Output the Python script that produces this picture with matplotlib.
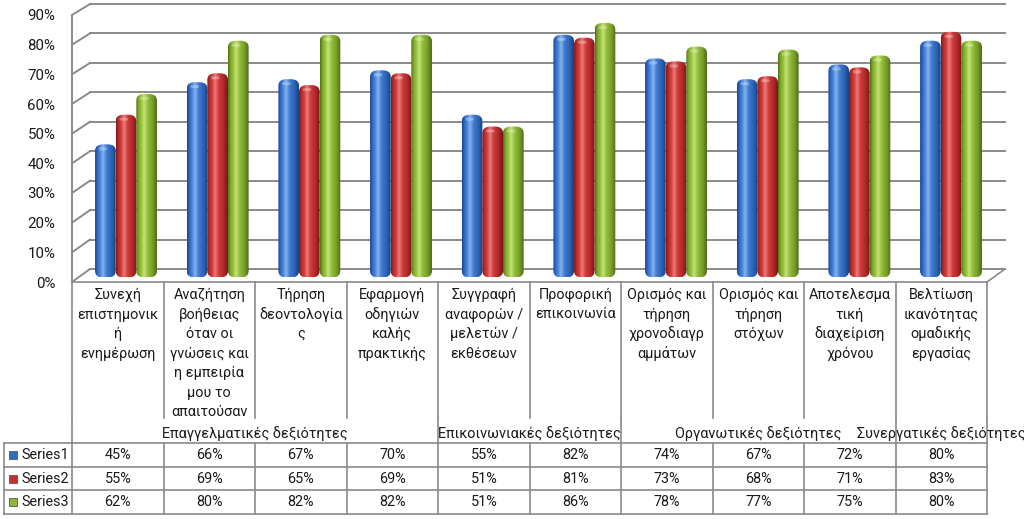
import matplotlib
matplotlib.use("Agg")
import matplotlib.pyplot as plt
import numpy as np
from matplotlib.colors import LinearSegmentedColormap
from matplotlib.patches import FancyBboxPatch, Rectangle
from matplotlib.ticker import PercentFormatter

plt.rcParams['font.family'] = ['Roboto', 'DejaVu Sans']

categories = [
    "Συνεχή\nεπιστημονικ\nή\nενημέρωση",
    "Αναζήτηση\nβοήθειας\nόταν οι\nγνώσεις και\nη εμπειρία\nμου το\nαπαιτούσαν",
    "Τήρηση\nδεοντολογία\nς",
    "Εφαρμογή\nοδηγιών\nκαλής\nπρακτικής",
    "Συγγραφή\nαναφορών /\nμελετών /\nεκθέσεων",
    "Προφορική\nεπικοινωνία",
    "Ορισμός και\nτήρηση\nχρονοδιαγρ\nαμμάτων",
    "Ορισμός και\nτήρηση\nστόχων",
    "Αποτελεσμα\nτική\nδιαχείριση\nχρόνου",
    "Βελτίωση\nικανότητας\nομαδικής\nεργασίας",
]
group_names = ["Επαγγελματικές δεξιότητες", "Επικοινωνιακές δεξιότητες",
               "Οργανωτικές δεξιότητες", "Συνεργατικές δεξιότητες"]
group_starts = [0, 4, 6, 9]
group_ends = [4, 6, 9, 10]
series_names = ["Series1", "Series2", "Series3"]
series1 = [45, 66, 67, 70, 55, 82, 74, 67, 72, 80]
series2 = [55, 69, 65, 69, 51, 81, 73, 68, 71, 83]
series3 = [62, 80, 82, 82, 51, 86, 78, 77, 75, 80]
y_ticks = [0, 10, 20, 30, 40, 50, 60, 70, 80, 90]

series = [series1, series2, series3]
shades = [
    ["#1a4488", "#2f6cc4", "#4f8ade", "#86b3ec", "#3f7ad0", "#2a60b0", "#173f80"],
    ["#801818", "#b82c2c", "#d64040", "#ea7c7c", "#cf3a3a", "#aa2727", "#771515"],
    ["#52701a", "#80a92c", "#9ac53c", "#c4e27c", "#93bf38", "#74992a", "#4c6814"],
]
stops = [0.0, 0.12, 0.26, 0.38, 0.56, 0.82, 1.0]
key_colors = ["#2f6cc4", "#c33131", "#8cb834"]

W, H = 1024, 519
fig = plt.figure(figsize=(W / 100, H / 100), dpi=100)
fig.patch.set_facecolor("white")

# decoration axes in pixel coordinates
deco = fig.add_axes([0, 0, 1, 1])
deco.set_xlim(0, W)
deco.set_ylim(H, 0)
deco.axis("off")

gc = "#8a8a8a"
x_front0, x_front1 = 72, 987
x_back0, x_back1 = 90, 1005
def yf(v):
    return 282 - v * (267 / 90)
def yb(v):
    return 269 - v * (265 / 90)

for v in y_ticks:
    deco.plot([x_back0, x_back1], [yb(v), yb(v)], color=gc, lw=1.4, zorder=1)
    deco.plot([x_front0, x_back0], [yf(v), yb(v)], color=gc, lw=1.4, zorder=1)
# floor right edge
deco.plot([x_front1, x_back1], [282, 269], color=gc, lw=1.2, zorder=1)

# table
ncat = len(categories)
cw = (x_front1 - x_front0) / ncat
tl = "#8a8a8a"
row_lines = [443, 467, 490, 514]
deco.plot([x_front0, x_front1], [282, 282], color=tl, lw=1.2, zorder=1)
for y in row_lines:
    deco.plot([4, x_front1], [y, y], color=tl, lw=1.2, zorder=1)
deco.plot([4, 4], [443, 514], color=tl, lw=1.2, zorder=1)
boundaries = set(group_starts) | set(group_ends)
for i in range(ncat + 1):
    x = x_front0 + cw * i
    deco.plot([x, x], [282, 418], color=tl, lw=1.2, zorder=1)
    if i in boundaries:
        deco.plot([x, x], [418, 443], color=tl, lw=1.2, zorder=1)
    deco.plot([x, x], [443, 514], color=tl, lw=1.2, zorder=1)

fs = 10.4
tc = "#1a1a1a"
for i, lab in enumerate(categories):
    cx = x_front0 + cw * (i + 0.5)
    for k, line in enumerate(lab.split("\n")):
        deco.text(cx, 295 + 19.5 * k, line, ha="center", va="center",
                  fontsize=fs, color=tc, zorder=3)
for name, s, e in zip(group_names, group_starts, group_ends):
    cx = x_front0 + cw * (s + e) / 2
    deco.text(cx, 434, name, ha="center", va="center", fontsize=fs, color=tc, zorder=3)

row_centers = [455, 479, 502]
for r, (nm, vals) in enumerate(zip(series_names, series)):
    yc = row_centers[r]
    deco.add_patch(Rectangle((9, yc - 4), 8, 8, facecolor=key_colors[r],
                             edgecolor="#555555", lw=0.6, zorder=3))
    deco.text(21, yc, nm, ha="left", va="center", fontsize=fs, color=tc, zorder=3)
    for i, v in enumerate(vals):
        cx = x_front0 + cw * (i + 0.5)
        deco.text(cx, yc, f"{v}%", ha="center", va="center", fontsize=fs, color=tc, zorder=3)

# front axes for the y scale
fa = fig.add_axes([x_front0 / W, (H - 282) / H, (x_front1 - x_front0) / W, 267 / H])
fa.set_facecolor("none")
fa.set_ylim(0, 90)
fa.set_xlim(0, 1)
fa.set_yticks(y_ticks)
fa.yaxis.set_major_formatter(PercentFormatter(decimals=0))
fa.set_xticks([])
for sp in ["top", "right", "bottom"]:
    fa.spines[sp].set_visible(False)
fa.spines["left"].set_color(gc)
fa.spines["left"].set_linewidth(1.4)
fa.tick_params(axis="y", length=0, pad=12, labelsize=fs + 0.4, labelcolor=tc)

# bar axes (mid-depth)
cat_w = 91.67
bx0 = 126 - cat_w / 2
ba = fig.add_axes([bx0 / W, (H - 277.5) / H, cat_w * ncat / W, 266.4 / H])
ba.set_facecolor("none")
ba.axis("off")
ba.set_xlim(-0.5, ncat - 0.5)
ba.set_ylim(0, 90)

bw = 0.225
x = np.arange(ncat)
px_per_x = cat_w
px_per_y = 266.4 / 90
grad = np.linspace(0, 1, 64).reshape(1, -1)
for s_idx, vals in enumerate(series):
    cmap = LinearSegmentedColormap.from_list(f"c{s_idx}", list(zip(stops, shades[s_idx])))
    bars = ba.bar(x + (s_idx - 1) * bw, vals, bw, color="none", edgecolor="none")
    for rect in bars:
        bx, by = rect.get_x(), rect.get_y()
        w, h = rect.get_width(), rect.get_height()
        rs = 8.0 / px_per_x
        clip = FancyBboxPatch((bx, by), w, h,
                              boxstyle=f"round,pad=0,rounding_size={rs}",
                              mutation_aspect=(px_per_x / px_per_y) * 0.8,
                              transform=ba.transData, facecolor="none", edgecolor="none")
        ba.add_patch(clip)
        im = ba.imshow(grad, cmap=cmap, extent=(bx, bx + w, by, by + h),
                       aspect="auto", interpolation="bilinear", zorder=2)
        im.set_clip_path(clip)
        # top highlight
        cap = FancyBboxPatch((bx + w * 0.18, by + h - 6.0 / px_per_y), w * 0.42, 3.0 / px_per_y,
                             boxstyle=f"round,pad=0,rounding_size={1.5 / px_per_x}",
                             mutation_aspect=(px_per_x / px_per_y),
                             facecolor="white", edgecolor="none", alpha=0.3, zorder=3)
        ba.add_patch(cap)

fig.savefig("out.png", dpi=100, facecolor="white")
